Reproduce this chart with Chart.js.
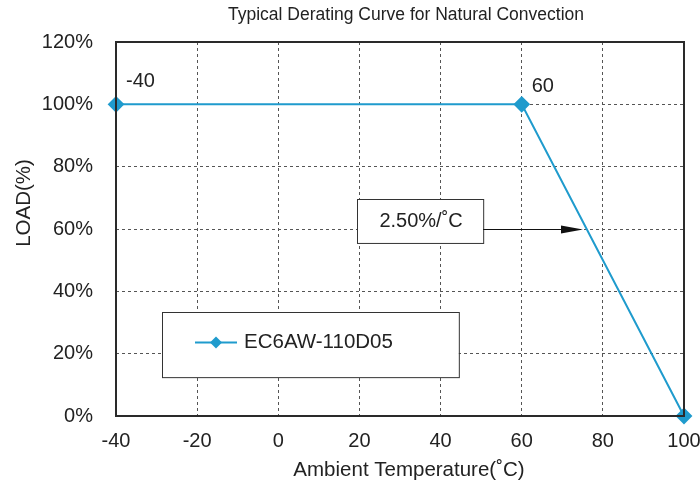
<!DOCTYPE html>
<html>
<head>
<meta charset="utf-8">
<script src="https://cdn.jsdelivr.net/npm/chart.js@4/dist/chart.umd.min.js"></script>
<style>
  html, body { margin: 0; padding: 0; background: #fff; }
  #chart { display: block; }
</style>
</head>
<body>
<canvas id="chart" width="700" height="486"></canvas>
<script>
// chart data
// --------------------------------------------
const temps = [-40, 60, 100]
const loads = [100, 100, 0]
const seriesName = 'EC6AW-110D05'
const chartTitle = 'Typical Derating Curve for Natural Convection'
const xTitle = 'Ambient Temperature(˚C)'
const yTitle = 'LOAD(%)'
const slopeText = '2.50%/˚C'

const blue = '#1f9bcd'
const ink = '#222'
const font = '"Liberation Sans", Arial, sans-serif'

// draws the frame, labels, boxes and arrow on top of the chart
// --------------------------------------------
const extras = {
    id: 'extras',
    afterDatasetsDraw(chart) {
        const ctx = chart.ctx
        const x = chart.scales.x
        const y = chart.scales.y
        const a = chart.chartArea
        ctx.save()

        // plot frame
        ctx.strokeStyle = '#2a2a2a'
        ctx.lineWidth = 2
        ctx.strokeRect(a.left, a.top, a.right - a.left, a.bottom - a.top)

        ctx.fillStyle = ink
        ctx.textBaseline = 'middle'

        // title
        ctx.font = '17.5px ' + font
        ctx.textAlign = 'center'
        ctx.fillText(chartTitle, 406, 15)

        // axis titles
        ctx.font = '20.5px ' + font
        ctx.fillText(xTitle, 409, 470)
        ctx.save()
        ctx.translate(24, 203)
        ctx.rotate(-Math.PI / 2)
        ctx.fillText(yTitle, 0, 0)
        ctx.restore()

        // point labels
        ctx.font = '20px ' + font
        ctx.textAlign = 'left'
        ctx.fillText(String(temps[0]), x.getPixelForValue(temps[0]) + 10, y.getPixelForValue(loads[0]) - 23)
        ctx.fillText(String(temps[1]), x.getPixelForValue(temps[1]) + 10, y.getPixelForValue(loads[1]) - 18)

        // slope box + arrow
        const bx1 = x.getPixelForValue(19.4), bx2 = x.getPixelForValue(50.5)
        const by1 = y.getPixelForValue(69.6), by2 = y.getPixelForValue(55.5)
        ctx.fillStyle = '#fff'
        ctx.fillRect(bx1, by1, bx2 - bx1, by2 - by1)
        ctx.strokeStyle = '#333'
        ctx.lineWidth = 1
        ctx.strokeRect(Math.round(bx1) + 0.5, Math.round(by1) + 0.5, bx2 - bx1, by2 - by1)
        ctx.fillStyle = ink
        ctx.textAlign = 'center'
        ctx.fillText(slopeText, (bx1 + bx2) / 2 + 1, (by1 + by2) / 2)

        const ay = Math.round(y.getPixelForValue(60)) + 0.5
        const tip = x.getPixelForValue(75.1)
        ctx.strokeStyle = '#111'
        ctx.beginPath()
        ctx.moveTo(bx2, ay)
        ctx.lineTo(tip - 18, ay)
        ctx.stroke()
        ctx.fillStyle = '#111'
        ctx.beginPath()
        ctx.moveTo(tip, ay)
        ctx.lineTo(tip - 22, ay - 4)
        ctx.lineTo(tip - 22, ay + 4)
        ctx.closePath()
        ctx.fill()

        // legend box
        const lx1 = x.getPixelForValue(-28.66), lx2 = x.getPixelForValue(44.5)
        const ly1 = y.getPixelForValue(33.4), ly2 = y.getPixelForValue(12.5)
        ctx.fillStyle = '#fff'
        ctx.fillRect(lx1, ly1, lx2 - lx1, ly2 - ly1)
        ctx.strokeStyle = '#333'
        ctx.strokeRect(Math.round(lx1) + 0.5, Math.round(ly1) + 0.5, lx2 - lx1, ly2 - ly1)
        const my = (ly1 + ly2) / 2 - 2
        ctx.strokeStyle = blue
        ctx.lineWidth = 2
        ctx.beginPath()
        ctx.moveTo(lx1 + 33, my)
        ctx.lineTo(lx1 + 75, my)
        ctx.stroke()
        ctx.fillStyle = blue
        const dx = lx1 + 54
        ctx.beginPath()
        ctx.moveTo(dx, my - 6)
        ctx.lineTo(dx + 6, my)
        ctx.lineTo(dx, my + 6)
        ctx.lineTo(dx - 6, my)
        ctx.closePath()
        ctx.fill()
        ctx.fillStyle = ink
        ctx.textAlign = 'left'
        ctx.font = '20.5px ' + font
        ctx.fillText(seriesName, lx1 + 82, my)

        ctx.restore()
    }
}

// main chart
// --------------------------------------------
const ctx = document.getElementById('chart').getContext('2d')
const myChart = new Chart(ctx, {
    type: 'line',
    data: {
        datasets: [{
            label: seriesName,
            data: temps.map((t, i) => ({ x: t, y: loads[i] })),
            borderColor: blue,
            backgroundColor: blue,
            borderWidth: 2,
            pointStyle: 'rectRot',
            pointRadius: 7,
            pointHoverRadius: 7,
            fill: false,
            tension: 0,
            clip: false
        }]
    },
    options: {
        responsive: false,
        animation: false,
        layout: { padding: { top: 42, right: 16, left: 0, bottom: 0 } },
        plugins: {
            legend: { display: false },
            title: { display: false },
            tooltip: { enabled: false }
        },
        scales: {
            x: {
                type: 'linear',
                min: -40,
                max: 100,
                ticks: {
                    stepSize: 20,
                    padding: 13,
                    color: ink,
                    font: { family: font, size: 20 }
                },
                grid: {
                    color: '#555',
                    lineWidth: 1,
                    drawTicks: false
                },
                border: { display: false, dash: [3, 3] },
                afterFit: s => {
                    s.height = 70
                    s.paddingRight = 0
                    s.paddingLeft = 0
                }
            },
            y: {
                min: 0,
                max: 120,
                ticks: {
                    stepSize: 20,
                    padding: 23,
                    color: ink,
                    font: { family: font, size: 20 },
                    callback: v => v + '%'
                },
                grid: {
                    color: '#555',
                    lineWidth: 1,
                    drawTicks: false
                },
                border: { display: false, dash: [3, 3] },
                afterFit: s => {
                    s.width = 116
                    s.paddingTop = 0
                    s.paddingBottom = 0
                }
            }
        }
    },
    plugins: [extras]
})
</script>
</body>
</html>
